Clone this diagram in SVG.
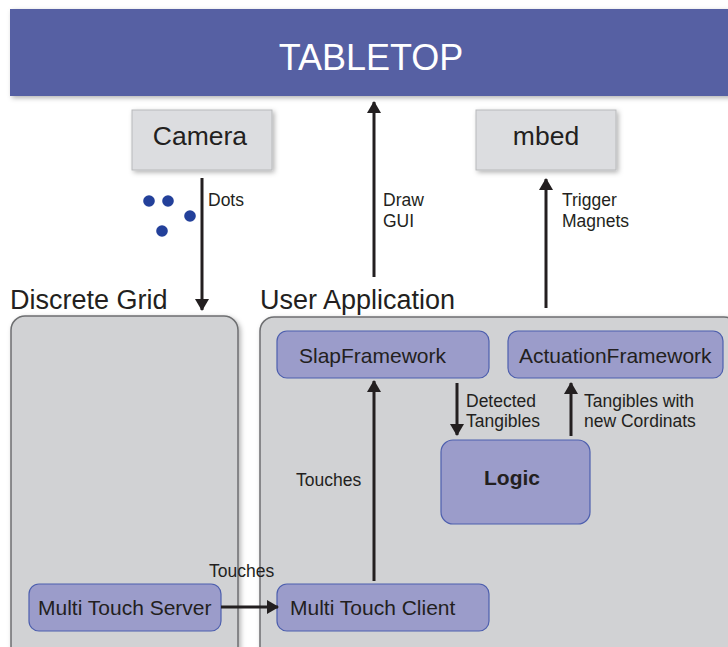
<svg xmlns="http://www.w3.org/2000/svg" width="728" height="647" viewBox="0 0 728 647">
<defs>
<filter id="sh" x="-10%" y="-10%" width="120%" height="130%">
<feDropShadow dx="2" dy="2" stdDeviation="2.5" flood-color="#000" flood-opacity="0.3"/>
</filter>
<marker id="ah" viewBox="0 0 12 14" refX="11" refY="7" markerWidth="12" markerHeight="14" markerUnits="userSpaceOnUse" orient="auto">
<path d="M0,0 L12,7 L0,14 Z" fill="#231f20"/>
</marker>
<style>
text{font-family:"Liberation Sans",Arial,sans-serif;fill:#231f20}
.lbl{font-size:17.5px}
.big{font-size:26.5px}
.sec{font-size:27px}
.node{font-size:21px}
.gray{fill:#dcdde0;stroke:#b8b9bb;stroke-width:1}
.cont{fill:#d1d2d4;stroke:#6d6e70;stroke-width:1.5}
.blue{fill:#9b9cca;stroke:#4d5fae;stroke-width:1.2}
.conn{stroke:#231f20;stroke-width:3;fill:none;marker-end:url(#ah)}
.dot{fill:#23409a}
</style>
</defs>
<rect width="728" height="647" fill="#ffffff"/>

<g id="tabletop">
<rect x="10" y="9" width="730" height="87" fill="#5660a3" filter="url(#sh)"/>
<text x="371" y="70" text-anchor="middle" style="font-size:36px;fill:#ffffff">TABLETOP</text>
</g>

<g id="camera">
<rect class="gray" x="132" y="110" width="140" height="60" filter="url(#sh)"/>
<text class="big" x="200" y="145" text-anchor="middle">Camera</text>
</g>

<g id="mbed">
<rect class="gray" x="476" y="110" width="140" height="60" filter="url(#sh)"/>
<text class="big" x="546" y="145" text-anchor="middle">mbed</text>
</g>

<g id="dots">
<circle class="dot" cx="149" cy="201" r="5.8"/>
<circle class="dot" cx="168" cy="201" r="5.8"/>
<circle class="dot" cx="190" cy="216" r="5.8"/>
<circle class="dot" cx="162" cy="231" r="5.8"/>
</g>

<g id="discrete-grid">
<text class="sec" x="10" y="309">Discrete Grid</text>
<rect class="cont" x="11" y="316" width="227" height="345" rx="14" filter="url(#sh)"/>
</g>

<g id="user-application">
<text class="sec" x="260" y="309">User Application</text>
<rect class="cont" x="260" y="317" width="478" height="344" rx="14" filter="url(#sh)"/>
</g>

<g id="slapframework">
<rect class="blue" x="277" y="331" width="212" height="47" rx="10"/>
<text class="node" x="299" y="363">SlapFramework</text>
</g>

<g id="actuationframework">
<rect class="blue" x="508" y="331" width="215" height="47" rx="10"/>
<text class="node" x="519" y="363">ActuationFramework</text>
</g>

<g id="logic">
<rect class="blue" x="441" y="440" width="149" height="84" rx="12"/>
<text class="node" x="512" y="485" text-anchor="middle" font-weight="bold">Logic</text>
</g>

<g id="multi-touch-server">
<rect class="blue" x="29" y="584" width="192" height="47" rx="10"/>
<text class="node" x="38" y="615">Multi Touch Server</text>
</g>

<g id="multi-touch-client">
<rect class="blue" x="277" y="584" width="212" height="47" rx="10"/>
<text class="node" x="290" y="615">Multi Touch Client</text>
</g>

<g id="connectors">
<line class="conn" x1="202" y1="178" x2="202" y2="310"/>
<text class="lbl" x="208" y="206">Dots</text>
<line class="conn" x1="374" y1="277" x2="374" y2="102"/>
<text class="lbl" x="383" y="206">Draw</text>
<text class="lbl" x="383" y="227">GUI</text>
<line class="conn" x1="546" y1="308" x2="546" y2="179"/>
<text class="lbl" x="562" y="206">Trigger</text>
<text class="lbl" x="562" y="227">Magnets</text>
<line class="conn" x1="457" y1="383" x2="457" y2="435"/>
<text class="lbl" x="466" y="407">Detected</text>
<text class="lbl" x="466" y="427">Tangibles</text>
<line class="conn" x1="571" y1="436" x2="571" y2="383"/>
<text class="lbl" x="584" y="407">Tangibles with</text>
<text class="lbl" x="584" y="427">new Cordinats</text>
<line class="conn" x1="374" y1="581" x2="374" y2="381"/>
<text class="lbl" x="296" y="486">Touches</text>
<line class="conn" x1="221" y1="607" x2="278" y2="607"/>
<text class="lbl" x="209" y="577">Touches</text>
</g>
</svg>
